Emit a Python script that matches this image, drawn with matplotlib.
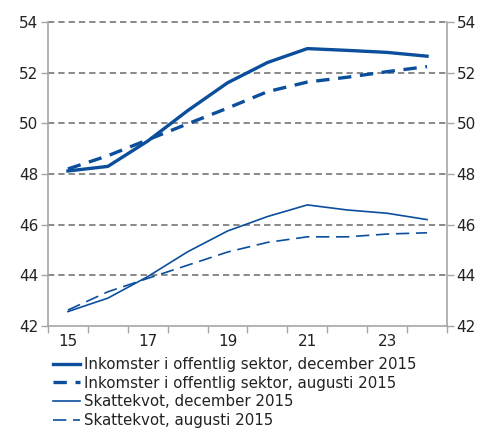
import matplotlib
matplotlib.use("Agg")
import matplotlib.pyplot as plt
import numpy as np

years = ["15", "16", "17", "18", "19", "20", "21", "22", "23", "24"]
ink_dec = [48.12, 48.3, 49.3, 50.5, 51.6, 52.4, 52.95, 52.88, 52.8, 52.65]
ink_aug = [48.2, 48.72, 49.35, 49.98, 50.6, 51.25, 51.63, 51.82, 52.04, 52.24]
skatt_dec = [42.57, 43.1, 43.95, 44.93, 45.75, 46.32, 46.78, 46.58, 46.45, 46.2]
skatt_aug = [42.63, 43.35, 43.88, 44.4, 44.92, 45.3, 45.52, 45.52, 45.63, 45.68]
labels = ["Inkomster i offentlig sektor, december 2015",
          "Inkomster i offentlig sektor, augusti 2015",
          "Skattekvot, december 2015",
          "Skattekvot, augusti 2015"]
yticks = [42, 44, 46, 48, 50, 52, 54]

blue = "#0b4f9c"
grid_c = "#808080"
spine_c = "#a6a6a6"

plt.rcParams['font.family'] = ['DejaVu Sans']
fig = plt.figure(figsize=(4.89, 4.30), dpi=100)
ax = fig.add_axes([48/489, 104/430, 399/489, 304/430])

x = np.arange(len(years))
ax.plot(x, ink_dec, color=blue, lw=2.4, label=labels[0], zorder=3)
ax.plot(x, ink_aug, color=blue, lw=2.4, ls=(0, (4, 2.6)), label=labels[1], zorder=3)
ax.plot(x, skatt_dec, color=blue, lw=1.2, label=labels[2], zorder=3)
ax.plot(x, skatt_aug, color=blue, lw=1.2, ls=(0, (8, 4)), label=labels[3], zorder=3)

ax.set_xlim(-0.5, len(years) - 0.5)
ax.set_ylim(42, 54)
ax.set_yticks(yticks)
ax.set_yticklabels([str(v) for v in yticks])
for v in yticks[1:]:
    ax.axhline(v, color=grid_c, lw=1.3, ls=(0, (3.5, 2.2)), zorder=1, clip_on=False)

ax.set_xticks(np.arange(-0.5, len(years), 1))
ax.set_xticklabels([])
ax.set_xticks(x[::2], minor=True)
ax.set_xticklabels(years[::2], minor=True)
ax.tick_params(axis='x', which='major', direction='out', length=5, color=spine_c, width=1)
ax.tick_params(axis='x', which='minor', length=0, pad=6, labelsize=11, labelcolor='#222222')
ax.tick_params(axis='y', direction='out', length=5, color=spine_c, width=1,
               right=True, labelright=True, labelsize=11, labelcolor='#222222', pad=2)

for s in ['left', 'right', 'bottom']:
    ax.spines[s].set_color(spine_c)
    ax.spines[s].set_linewidth(1.2)
ax.spines['top'].set_visible(False)

leg = fig.legend(loc='upper left', frameon=False,
                 fontsize=10.8, handlelength=1.8, handletextpad=0.3, labelspacing=0.24,
                 borderaxespad=0, borderpad=0, labelcolor='#222222')
leg.set_bbox_to_anchor((53/489, 1 - 357/430), transform=fig.transFigure)

fig.savefig("out.png", dpi=100)
